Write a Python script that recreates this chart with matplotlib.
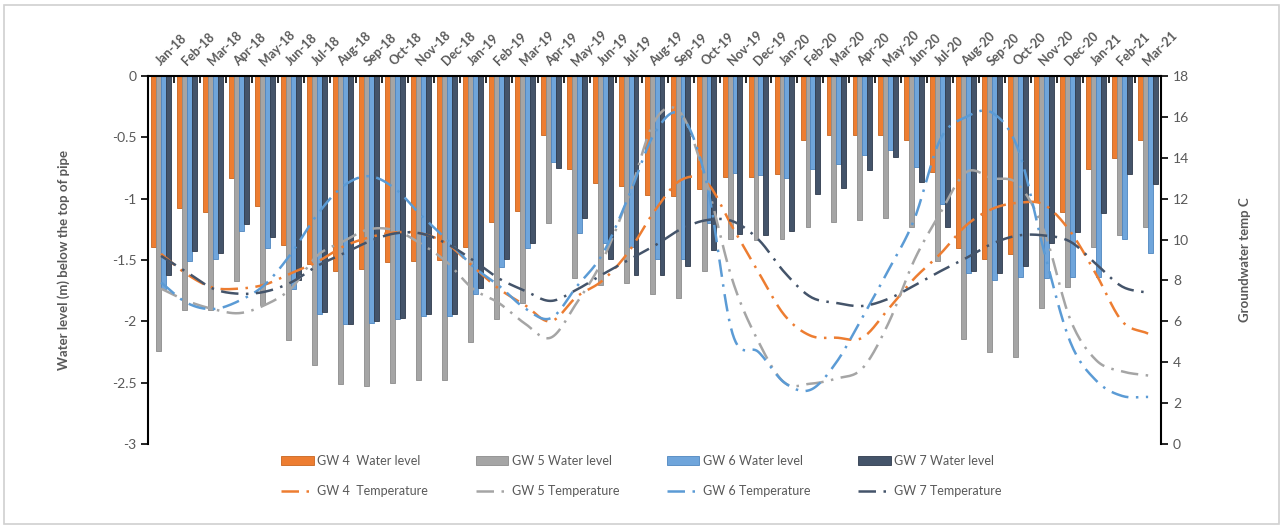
import numpy as np
import matplotlib
matplotlib.use("Agg")
import matplotlib.pyplot as plt
from matplotlib.patches import Rectangle

months = ['Jan-18', 'Feb-18', 'Mar-18', 'Apr-18', 'May-18', 'Jun-18', 'Jul-18', 'Aug-18',
          'Sep-18', 'Oct-18', 'Nov-18', 'Dec-18', 'Jan-19', 'Feb-19', 'Mar-19', 'Apr-19',
          'May-19', 'Jun-19', 'Jul-19', 'Aug-19', 'Sep-19', 'Oct-19', 'Nov-19', 'Dec-19',
          'Jan-20', 'Feb-20', 'Mar-20', 'Apr-20', 'May-20', 'Jun-20', 'Jul-20', 'Aug-20',
          'Sep-20', 'Oct-20', 'Nov-20', 'Dec-20', 'Jan-21', 'Feb-21', 'Mar-21']

# water level (m) below top of pipe
gw4_level = [-1.39, -1.08, -1.11, -0.83, -1.06, -1.38, -1.53, -1.59, -1.57, -1.52, -1.51, -1.50,
             -1.39, -1.19, -1.10, -0.48, -0.76, -0.87, -0.90, -0.97, -0.98, -0.92, -0.82, -0.82,
             -0.80, -0.52, -0.48, -0.48, -0.48, -0.52, -0.78, -1.40, -1.49, -1.45, -1.03, -1.11,
             -0.76, -0.67, -0.52]
gw5_level = [-2.24, -1.91, -1.91, -1.67, -1.87, -2.15, -2.36, -2.51, -2.53, -2.50, -2.48, -2.48,
             -2.17, -1.98, -1.85, -1.20, -1.65, -1.70, -1.69, -1.78, -1.81, -1.59, -1.33, -1.34,
             -1.33, -1.23, -1.19, -1.17, -1.16, -1.23, -1.51, -2.14, -2.25, -2.29, -1.89, -1.72,
             -1.39, -1.30, -1.23]
gw6_level = [-1.74, -1.51, -1.49, -1.26, -1.40, -1.74, -1.94, -2.02, -2.01, -1.98, -1.96, -1.96,
             -1.78, -1.56, -1.40, -0.70, -1.28, -1.36, -1.39, -1.49, -1.49, -1.20, -0.79, -0.81,
             -0.83, -0.76, -0.72, -0.64, -0.60, -0.74, -1.04, -1.61, -1.66, -1.64, -1.65, -1.64,
             -1.64, -1.33, -1.44]
gw7_level = [-1.62, -1.43, -1.44, -1.21, -1.31, -1.66, -1.92, -2.02, -2.00, -1.97, -1.94, -1.94,
             -1.73, -1.49, -1.36, -0.75, -1.16, -1.49, -1.62, -1.62, -1.55, -1.42, -1.29, -1.30,
             -1.26, -0.96, -0.91, -0.77, -0.66, -0.86, -1.23, -1.59, -1.61, -1.55, -1.36, -1.27,
             -1.12, -0.80, -0.88]

# groundwater temperature (C)
gw4_temp = [9.3, 8.3, 7.65, 7.6, 7.8, 8.35, 8.9, 9.65, 10.1, 10.35, 10.3, 9.8,
            8.7, 7.6, 6.8, 6.0, 7.2, 8.0, 9.4, 11.4, 12.9, 12.8, 10.6, 8.4,
            6.3, 5.3, 5.2, 5.2, 6.6, 8.1, 9.3, 10.7, 11.5, 11.8, 11.7, 10.4,
            8.3, 6.0, 5.4]
gw5_temp = [7.6, 7.0, 6.6, 6.4, 6.8, 7.6, 9.2, 9.9, 10.5, 10.45, 9.8, 8.9,
            7.6, 6.9, 5.9, 5.2, 6.9, 9.0, 12.1, 15.8, 16.2, 12.8, 8.0, 5.0,
            3.0, 2.95, 3.2, 3.7, 5.9, 9.0, 11.3, 13.3, 13.0, 12.7, 10.4, 6.1,
            4.1, 3.55, 3.35]
gw6_temp = [7.9, 6.9, 6.6, 7.0, 7.8, 9.3, 11.2, 12.6, 13.1, 12.5, 11.2, 10.0,
            8.7, 7.75, 6.65, 6.15, 7.7, 9.3, 12.1, 15.2, 16.1, 12.8, 5.4, 4.5,
            3.0, 2.65, 4.0, 6.2, 8.5, 11.0, 14.9, 16.0, 16.2, 14.4, 9.4, 5.0,
            3.1, 2.35, 2.3]
gw7_temp = [9.2, 8.4, 7.6, 7.35, 7.45, 7.9, 8.7, 9.3, 9.9, 10.3, 10.3, 9.8,
            9.0, 8.1, 7.5, 7.0, 7.55, 8.3, 9.0, 9.7, 10.5, 10.95, 10.9, 10.0,
            8.4, 7.2, 6.9, 6.75, 7.1, 7.75, 8.45, 9.1, 9.8, 10.2, 10.2, 9.9,
            8.8, 7.7, 7.4]

level_labels = ['GW 4  Water level', 'GW 5 Water level', 'GW 6 Water level', 'GW 7 Water level']
temp_labels = ['GW 4  Temperature', 'GW 5 Temperature', 'GW 6 Temperature', 'GW 7 Temperature']
colors = ['#ED7D31', '#A5A5A5', '#6FA5DB', '#44546A']
edges = ['#C8651F', '#8C8C8C', '#4F86BF', '#2F3B4C']
line_colors = ['#ED7D31', '#A5A5A5', '#5B9BD5', '#44546A']


def smooth(x, y, n=16):
    # catmull-rom curve through the points (like excel's smoothed line)
    x = np.asarray(x, float)
    y = np.asarray(y, float)
    px = np.concatenate([[2 * x[0] - x[1]], x, [2 * x[-1] - x[-2]]])
    py = np.concatenate([[2 * y[0] - y[1]], y, [2 * y[-1] - y[-2]]])
    xs, ys = [], []
    t = np.linspace(0, 1, n, endpoint=False)
    for i in range(1, len(px) - 2):
        for p, out in ((px, xs), (py, ys)):
            p0, p1, p2, p3 = p[i - 1], p[i], p[i + 1], p[i + 2]
            out.extend(0.5 * (2 * p1 + (-p0 + p2) * t + (2 * p0 - 5 * p1 + 4 * p2 - p3) * t ** 2
                              + (-p0 + 3 * p1 - 3 * p2 + p3) * t ** 3))
    xs.append(x[-1])
    ys.append(y[-1])
    return np.array(xs), np.array(ys)


def main():
    plt.rcParams['font.family'] = ['Lato', 'DejaVu Sans']
    grey = '#595959'

    fig = plt.figure(figsize=(12.83, 5.29), dpi=100)
    ax = fig.add_axes([0.1154, 0.1607, 0.7896, 0.6956])
    fig.patches.append(Rectangle((0.003, 0.01), 0.994, 0.98, transform=fig.transFigure,
                                 fill=False, edgecolor='#d0d0d0', lw=1.2))

    x = np.arange(len(months))
    w = 0.19
    levels = [gw4_level, gw5_level, gw6_level, gw7_level]
    bars = []
    for k, vals in enumerate(levels):
        b = ax.bar(x + (k - 1.5) * w, vals, w, color=colors[k], edgecolor=edges[k],
                   linewidth=0.6, label=level_labels[k], zorder=2)
        bars.append(b)

    ax.set_xlim(-0.5, len(months) - 0.5)
    ax.set_ylim(-3, 0)
    ax.set_yticks(np.arange(-3, 0.01, 0.5))
    ax.set_yticklabels(['-3', '-2.5', '-2', '-1.5', '-1', '-0.5', '0'])
    ax.tick_params(axis='y', colors=grey, labelsize=10, length=5, width=1.2)
    ax.tick_params(axis='y', which='both', color='black')
    ax.set_xticks(np.arange(-0.5, len(months), 1.0))
    ax.set_xticklabels([])
    ax.tick_params(axis='x', top=True, bottom=False, direction='in', length=5, width=1.2,
                   color='black')
    for s in ['bottom', 'right']:
        ax.spines[s].set_visible(False)
    ax.spines['top'].set_linewidth(1.5)
    ax.spines['left'].set_linewidth(1.5)

    for i, m in enumerate(months):
        ax.annotate(m, xy=(i, 0), xycoords='data', xytext=(-2, 9), textcoords='offset points',
                    rotation=45, rotation_mode='anchor', ha='left', va='center',
                    fontsize=9, fontweight='bold', color=grey)

    ax.set_ylabel('Water level (m) below the top of pipe', fontsize=9.5, fontweight='bold',
                  color=grey, labelpad=30)

    # temperatures on the secondary axis
    ax2 = ax.twinx()
    ax2.set_ylim(0, 18)
    ax2.set_yticks(np.arange(0, 19, 2))
    ax2.tick_params(axis='y', colors=grey, labelsize=10, length=5, width=1.2)
    ax2.tick_params(axis='y', color='black')
    for s in ['top', 'bottom', 'left']:
        ax2.spines[s].set_visible(False)
    ax2.spines['right'].set_linewidth(1.5)
    ax2.set_ylabel('Groundwater temp C', fontsize=9.5, fontweight='bold', color=grey,
                   labelpad=36)

    temps = [gw4_temp, gw5_temp, gw6_temp, gw7_temp]
    lines = []
    for k, vals in enumerate(temps):
        sx, sy = smooth(x, vals)
        ln, = ax2.plot(sx, sy, color=line_colors[k], lw=1.8,
                       linestyle=(0, (7, 3, 1, 3)), label=temp_labels[k])
        lines.append(ln)

    handles, labels = [], []
    for k in range(4):
        handles += [bars[k], lines[k]]
        labels += [level_labels[k], temp_labels[k]]
    fig.legend(handles, labels, loc='center', bbox_to_anchor=(0.5, 0.1), ncol=4,
               frameon=False, fontsize=9, labelcolor=grey, handlelength=2.6,
               handleheight=0.8, handletextpad=0.3, columnspacing=3.8, labelspacing=1.5)

    fig.savefig('out.png', dpi=100, facecolor='white')


if __name__ == "__main__":
    main()
